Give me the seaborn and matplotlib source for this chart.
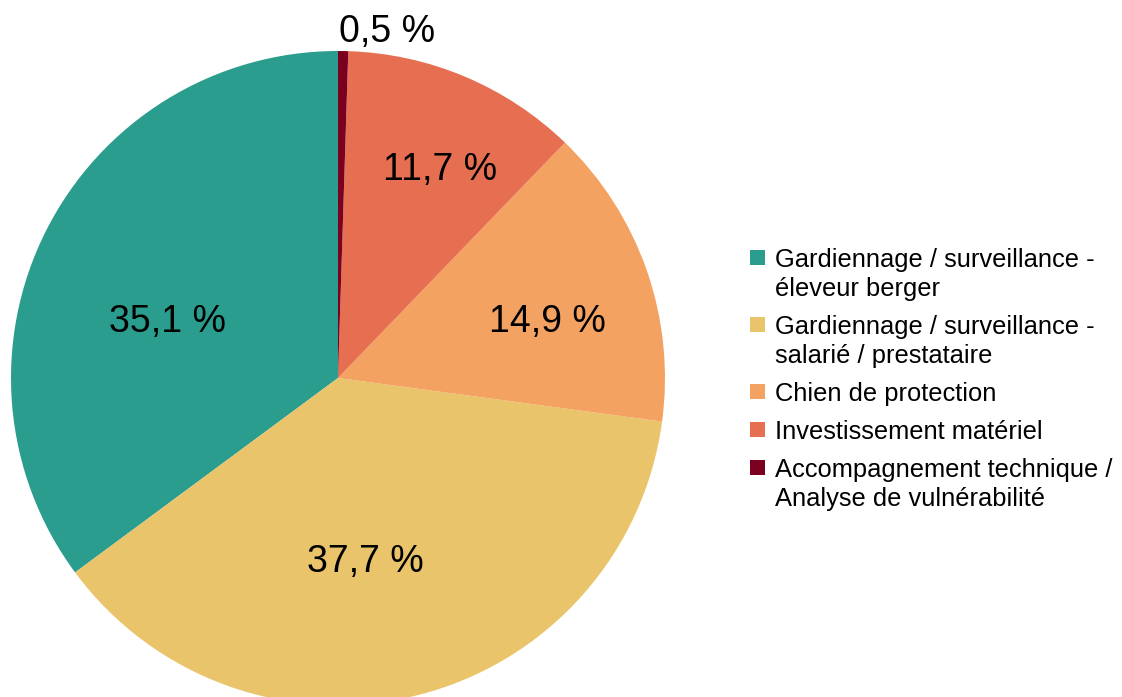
import seaborn as sns
import matplotlib.pyplot as plt
from matplotlib.patches import Rectangle

sns.set_theme(style="white")
plt.rcParams['font.family'] = ['Liberation Sans', 'DejaVu Sans']

categories = [
    "Gardiennage / surveillance -\néleveur berger",
    "Gardiennage / surveillance -\nsalarié / prestataire",
    "Chien de protection",
    "Investissement matériel",
    "Accompagnement technique /\nAnalyse de vulnérabilité",
]
shares = [35.1, 37.7, 14.9, 11.7, 0.5]
colors = ["#2a9d8f", "#e9c46a", "#f4a261", "#e76f51", "#7b0020"]
pct_labels = ["35,1 %", "37,7 %", "14,9 %", "11,7 %", "0,5 %"]

# label centres, in units of the pie radius (LibreOffice-like placement)
label_pos = [(-0.52, 0.171), (0.083, -0.563), (0.642, 0.171), (0.312, 0.636), (0.150, 1.058)]

W, H = 1122, 697
fig = plt.figure(figsize=(W / 100, H / 100), dpi=100)

# pie: centre (338, 378) px, radius 327 px
cx, cy, r = 338, 378, 327
ax = fig.add_axes([(cx - r) / W, (H - cy - r) / H, 2 * r / W, 2 * r / H])
wedges, _ = ax.pie(shares, colors=colors, startangle=90, counterclock=True,
                   radius=1, wedgeprops=dict(linewidth=0))
ax.set_xlim(-1, 1)
ax.set_ylim(-1, 1)
ax.set_aspect('equal')
ax.axis('off')
for w in wedges:
    w.set_clip_on(False)

for lbl, (x, y) in zip(pct_labels, label_pos):
    ax.text(x, y, lbl, ha='center', va='center', fontsize=27, color='black', clip_on=False)

# legend, drawn as figure texts
y = 267
for cat, col in zip(categories, colors):
    fig.patches.append(Rectangle((750 / W, 1 - (y - 2) / H), 15 / W, 15 / H,
                                 transform=fig.transFigure, facecolor=col, edgecolor='none'))
    for line in cat.split("\n"):
        fig.text(775 / W, 1 - y / H, line, ha='left', va='baseline', fontsize=18.4, color='black')
        y += 29
    y += 9

fig.savefig("out.png", dpi=100)
